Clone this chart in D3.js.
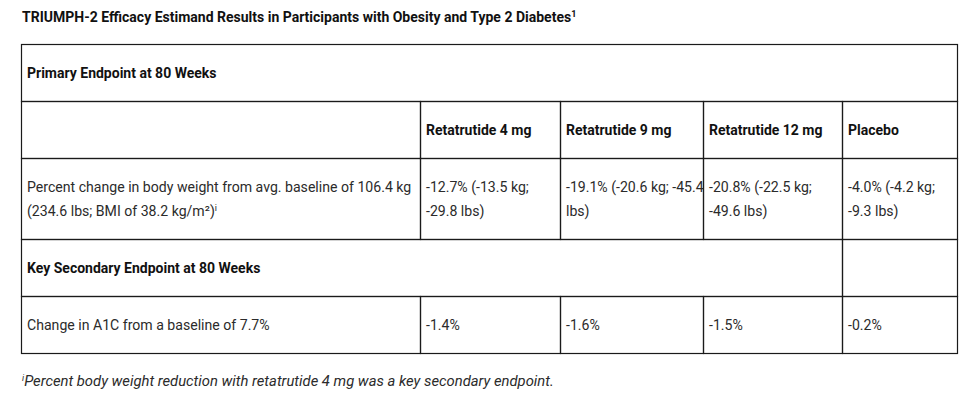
<!DOCTYPE html>
<html>
<head>
<meta charset="utf-8">
<script src="https://cdn.jsdelivr.net/npm/d3@7"></script>
<style>
  body { margin: 0; background: #fff; }
  text { font-family: Roboto, "Noto Sans", sans-serif; }
</style>
</head>
<body>
<div class="trial-table"></div>
<script>
// chart data
const title = 'TRIUMPH-2 Efficacy Estimand Results in Participants with Obesity and Type 2 Diabetes';
const arms = ['Retatrutide 4 mg', 'Retatrutide 9 mg', 'Retatrutide 12 mg', 'Placebo'];
const primaryHeading = 'Primary Endpoint at 80 Weeks';
const secondaryHeading = 'Key Secondary Endpoint at 80 Weeks';
const weightLabel = ['Percent change in body weight from avg. baseline of 106.4 kg', '(234.6 lbs; BMI of 38.2 kg/m²)'];
const weightPct = [-12.7, -19.1, -20.8, -4.0];
const weightKg = [-13.5, -20.6, -22.5, -4.2];
const weightLbs = [-29.8, -45.4, -49.6, -9.3];
const a1cLabel = 'Change in A1C from a baseline of 7.7%';
const a1cChange = [-1.4, -1.6, -1.5, -0.2];
const footnote = 'Percent body weight reduction with retatrutide 4 mg was a key secondary endpoint.';

// layout
const width = 977, height = 401;
const colKeys = ['label'].concat(arms, ['end']);
const x = d3.scaleOrdinal().domain(colKeys).range([21, 420, 560, 703, 842, 957]);
const rowKeys = ['primary', 'arms', 'weight', 'secondary', 'a1c', 'end'];
const y = d3.scaleOrdinal().domain(rowKeys).range([44, 101, 158, 239, 296, 353]);
const pad = 6, lineH = 24, fs = 14.1;

// plain hyphen for the minus sign, as in the source table
const fmt = d3.formatLocale({ decimal: '.', thousands: ',', grouping: [3], currency: ['', ''], minus: '-' }).format('.1f');
const pct = v => fmt(v) + '%';

// build the cells from the arrays
const cells = [
  { row: 'primary', from: 'label', to: 'end', lines: [primaryHeading], bold: true },
  { row: 'arms', from: 'label', to: arms[0], lines: [] }
].concat(arms.map((a, i) => ({ row: 'arms', from: a, to: colKeys[i + 2], lines: [a], bold: true })))
 .concat([{ row: 'weight', from: 'label', to: arms[0], lines: weightLabel, sup: 'i' }])
 .concat(arms.map((a, i) => ({
   row: 'weight', from: a, to: colKeys[i + 2], wrap: true,
   lines: [pct(weightPct[i]) + ' (' + fmt(weightKg[i]) + ' kg; ' + fmt(weightLbs[i]) + ' lbs)']
 })))
 .concat([
   { row: 'secondary', from: 'label', to: arms[3], lines: [secondaryHeading], bold: true },
   { row: 'secondary', from: arms[3], to: 'end', lines: [] },
   { row: 'a1c', from: 'label', to: arms[0], lines: [a1cLabel] }
 ])
 .concat(arms.map((a, i) => ({ row: 'a1c', from: a, to: colKeys[i + 2], lines: [pct(a1cChange[i])] })));

const nextRow = r => rowKeys[rowKeys.indexOf(r) + 1];

const svg = d3.select('.trial-table').append('svg')
  .attr('width', width).attr('height', height);

// title
const t = svg.append('text').attr('x', 22).attr('y', 22)
  .attr('font-size', 14).attr('font-weight', 700).attr('fill', '#111').text(title);
t.append('tspan').attr('font-size', 9).attr('dy', -5).text('1');

// cell boxes
const g = svg.selectAll('.cell').data(cells).enter().append('g').attr('class', 'cell');
g.append('rect')
  .attr('x', d => x(d.from) + 0.5).attr('y', d => y(d.row) + 0.5)
  .attr('width', d => x(d.to) - x(d.from)).attr('height', d => y(nextRow(d.row)) - y(d.row))
  .attr('fill', 'none').attr('stroke', '#1a1a1a').attr('stroke-width', 1.2);

// wrap words to the cell width
function wrapLines(sel, text, maxW) {
  const words = text.split(' ');
  const out = [];
  let cur = '';
  words.forEach(w => {
    const test = cur ? cur + ' ' + w : w;
    sel.text(test);
    if (cur && sel.node().getComputedTextLength() > maxW) { out.push(cur); cur = w; }
    else cur = test;
  });
  out.push(cur);
  sel.text('');
  return out;
}

g.each(function(d) {
  if (!d.lines.length) return;
  const cell = d3.select(this);
  const txt = cell.append('text')
    .attr('font-size', d.bold ? 14 : fs)
    .attr('font-weight', d.bold ? 700 : 400)
    .attr('fill', d.bold ? '#111' : '#2b2b2b');
  let lines = d.lines;
  if (d.wrap) lines = wrapLines(txt, d.lines[0], x(d.to) - x(d.from) - 2.5);
  const cy = (y(d.row) + y(nextRow(d.row))) / 2;
  const y0 = cy - (lines.length - 1) * lineH / 2 + 5;
  lines.forEach((l, i) => {
    txt.append('tspan').attr('x', x(d.from) + pad).attr('y', y0 + i * lineH).text(l);
    if (d.sup && i === lines.length - 1) {
      txt.append('tspan').attr('font-size', 9).attr('dy', -5).text(d.sup);
    }
  });
});

// footnote
const f = svg.append('text').attr('x', 22).attr('y', 386)
  .attr('font-size', 14.8).attr('font-style', 'italic').attr('fill', '#2b2b2b');
f.append('tspan').attr('font-size', 9).attr('dy', -5).text('i');
f.append('tspan').attr('dy', 5).text(footnote);
</script>
</body>
</html>
